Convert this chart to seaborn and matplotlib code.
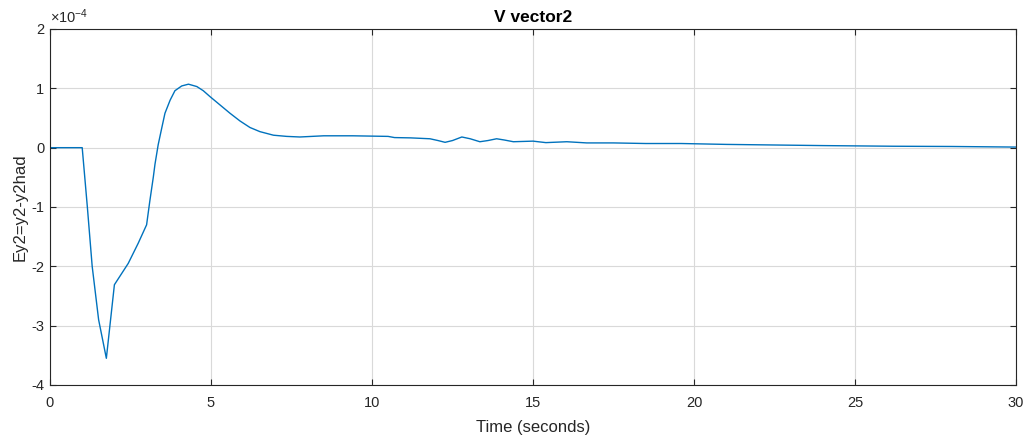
import numpy as np
import pandas as pd
import matplotlib
matplotlib.use("Agg")
import matplotlib.pyplot as plt
import seaborn as sns

# Error signal Ey2 = y2 - y2had over time (values in units of 1e-4)
time_s = [0.0, 1.0, 1.16, 1.31, 1.51, 1.75, 2.0, 2.43, 2.74, 3.0, 3.1, 3.21,
          3.26, 3.36, 3.47, 3.57, 3.73, 3.88, 4.09, 4.30, 4.56, 4.76, 4.97,
          5.28, 5.59, 5.90, 6.21, 6.52, 6.94, 7.35, 7.76, 8.5, 9.4, 10.5,
          10.7, 11.2, 11.8, 12.05, 12.27, 12.5, 12.79, 13.05, 13.35, 13.6,
          13.87, 14.1, 14.39, 15.0, 15.4, 16.05, 16.67, 17.5, 18.5, 19.6,
          21.0, 22.5, 24.0, 26.2, 28.0, 30.0]
ey2_e4 = [0.0, 0.0, -1.0, -2.0, -2.9, -3.55, -2.31, -1.95, -1.61, -1.30,
          -0.90, -0.49, -0.28, 0.05, 0.33, 0.58, 0.80, 0.96, 1.04, 1.07,
          1.03, 0.96, 0.86, 0.72, 0.58, 0.45, 0.34, 0.27, 0.21, 0.19, 0.18,
          0.20, 0.20, 0.19, 0.17, 0.165, 0.15, 0.12, 0.09, 0.12, 0.18, 0.15,
          0.10, 0.12, 0.15, 0.13, 0.10, 0.11, 0.085, 0.10, 0.08, 0.08, 0.07,
          0.07, 0.055, 0.045, 0.035, 0.024, 0.02, 0.01]
x_ticks = [0, 5, 10, 15, 20, 25, 30]
y_ticks = [-4, -3, -2, -1, 0, 1, 2]

df = pd.DataFrame({"t": time_s, "ey2": np.array(ey2_e4) * 1e-4})

sns.set_theme(style="white")
plt.rcParams["font.family"] = ["Liberation Sans", "DejaVu Sans"]
plt.rcParams["mathtext.fontset"] = "custom"
plt.rcParams["mathtext.rm"] = "Liberation Sans"
plt.rcParams["mathtext.it"] = "Liberation Sans"

fig = plt.figure(figsize=(10.31, 4.41), dpi=100)
ax = fig.add_axes([50 / 1031, 1 - 385 / 441, 966 / 1031, 356 / 441])

sns.lineplot(data=df, x="t", y="ey2", ax=ax, color="#0072BD", linewidth=1.0)

ax.set_xlim(0, 30)
ax.set_ylim(-4e-4, 2e-4)
ax.set_xticks(x_ticks)
ax.set_yticks([v * 1e-4 for v in y_ticks])
ax.set_xticklabels([str(v) for v in x_ticks])
ax.set_yticklabels([str(v) for v in y_ticks])

ax.grid(True, color="#d9d9d9", linewidth=0.8)
ax.set_axisbelow(True)
for s in ax.spines.values():
    s.set_color("#262626")
    s.set_linewidth(0.8)
ax.tick_params(direction="in", length=4, width=0.8, colors="#262626",
               labelsize=10.5, top=True, right=True, bottom=True, left=True,
               labelcolor="#262626")
ax.tick_params(axis="x", pad=8)
ax.tick_params(axis="y", pad=4)

ax.set_xlabel("Time (seconds)", fontsize=12, color="#262626", labelpad=7)
ax.set_ylabel("Ey2=y2-y2had", fontsize=12, color="#262626", labelpad=3)
ax.set_title("V vector2", fontsize=12.5, fontweight="bold", color="black", pad=5)

ax.text(0.0, 1.008, r"$\times10^{-4}$", transform=ax.transAxes,
        fontsize=10.5, color="#262626", ha="left", va="bottom")

fig.savefig("out.png", dpi=100)
